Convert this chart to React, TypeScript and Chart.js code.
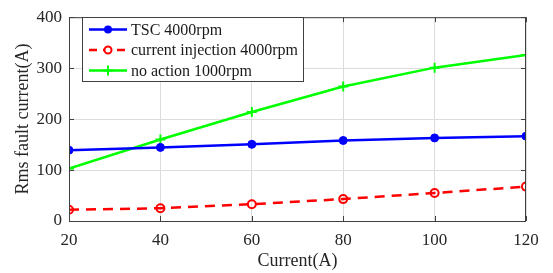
import React, { useEffect, useRef } from "react";
import { Chart, registerables } from "chart.js";
Chart.register(...registerables);

const xValues = [20, 40, 60, 80, 100, 120];
const tscValues = [139, 144.5, 150.5, 158, 163, 166.5];
const injectionValues = [22, 25, 33, 43, 55, 67.5];
const noActionValues = [103, 160, 214, 264, 301, 326];
const seriesLabels = ["TSC 4000rpm", "current injection 4000rpm", "no action 1000rpm"];
const xTitle = "Current(A)";
const yTitle = "Rms fault current(A)";

const FONT = "'Liberation Serif', 'Times New Roman', serif";

export default function App() {
  const ref = useRef<HTMLCanvasElement>(null);
  useEffect(() => {
    const ctx = ref.current!.getContext("2d")!;
    const mk = (vals: number[]) => vals.map((v, i) => ({ x: xValues[i], y: v }));
    const framePlugin = {
      id: "frame",
      afterDraw(chart: any) {
        const c = chart.ctx;
        const a = chart.chartArea;
        const xs = chart.scales.x;
        const ys = chart.scales.y;
        c.save();
        c.strokeStyle = "#404040";
        c.lineWidth = 1;
        c.strokeRect(a.left + 0.5, a.top + 0.5, a.right - a.left - 1, a.bottom - a.top);
        // inward ticks
        c.beginPath();
        for (const v of xValues) {
          const px = Math.round(xs.getPixelForValue(v)) + 0.5;
          c.moveTo(px, a.bottom); c.lineTo(px, a.bottom - 5);
          c.moveTo(px, a.top); c.lineTo(px, a.top + 5);
        }
        for (const v of [0, 100, 200, 300, 400]) {
          const py = Math.round(ys.getPixelForValue(v)) + 0.5;
          c.moveTo(a.left, py); c.lineTo(a.left + 5, py);
          c.moveTo(a.right, py); c.lineTo(a.right - 5, py);
        }
        c.stroke();
        // titles
        c.fillStyle = "#262626";
        c.font = `18px ${FONT}`;
        c.textAlign = "center";
        c.textBaseline = "alphabetic";
        c.fillText(xTitle, (a.left + a.right) / 2, 266);
        c.save();
        c.translate(28, (a.top + a.bottom) / 2);
        c.rotate(-Math.PI / 2);
        c.fillText(yTitle, 0, 0);
        c.restore();
        // legend
        const lx = 82, ly = 17, lw = 221, lh = 64;
        c.fillStyle = "#ffffff";
        c.fillRect(lx, ly, lw, lh);
        c.strokeStyle = "#404040";
        c.strokeRect(lx + 0.5, ly + 0.5, lw, lh);
        const items = [
          { color: "#0000ff", dash: [], marker: "dot" },
          { color: "#ff0000", dash: [8, 6], marker: "ring" },
          { color: "#00ff00", dash: [], marker: "cross" },
        ];
        items.forEach((it, i) => {
          const y = 29.5 + i * 20.5;
          c.strokeStyle = it.color;
          c.lineWidth = 2.5;
          c.setLineDash(it.dash);
          c.beginPath();
          c.moveTo(89, y); c.lineTo(127, y);
          c.stroke();
          c.setLineDash([]);
          c.fillStyle = it.color;
          if (it.marker === "dot") {
            c.beginPath(); c.arc(108, y, 4, 0, Math.PI * 2); c.fill();
          } else if (it.marker === "ring") {
            c.lineWidth = 2;
            c.beginPath(); c.arc(108, y, 3.5, 0, Math.PI * 2); c.fillStyle = "#fff"; c.fill(); c.stroke();
          } else {
            c.lineWidth = 2;
            c.beginPath(); c.moveTo(103, y); c.lineTo(113, y); c.moveTo(108, y - 5); c.lineTo(108, y + 5); c.stroke();
          }
          c.fillStyle = "#1a1a1a";
          c.font = `16px ${FONT}`;
          c.textAlign = "left";
          c.textBaseline = "middle";
          c.fillText(seriesLabels[i], 131, y + 1);
        });
        c.restore();
      },
    };
    const chart = new Chart(ctx, {
      type: "line",
      data: {
        datasets: [
          {
            label: seriesLabels[0],
            data: mk(tscValues),
            borderColor: "#0000ff",
            backgroundColor: "#0000ff",
            borderWidth: 2.5,
            pointStyle: "circle",
            pointRadius: 4,
            pointBorderWidth: 1,
          },
          {
            label: seriesLabels[1],
            data: mk(injectionValues),
            borderColor: "#ff0000",
            backgroundColor: "rgba(255,255,255,0)",
            borderWidth: 2.5,
            borderDash: [10, 7],
            pointStyle: "circle",
            pointRadius: 4,
            pointBorderWidth: 2,
          },
          {
            label: seriesLabels[2],
            data: mk(noActionValues),
            borderColor: "#00ff00",
            backgroundColor: "#00ff00",
            borderWidth: 2.5,
            pointStyle: "cross",
            pointRadius: 5,
            pointBorderWidth: 2,
          },
        ],
      },
      options: {
        animation: false,
        responsive: false,
        maintainAspectRatio: false,
        layout: { padding: { left: 0, top: 6, right: 27, bottom: 0 } },
        plugins: { legend: { display: false }, tooltip: { enabled: false } },
        scales: {
          x: {
            type: "linear",
            min: 20,
            max: 120,
            ticks: { stepSize: 20, color: "#262626", font: { family: FONT, size: 17 }, padding: 9 },
            grid: { color: "#dcdcdc", drawTicks: false },
            border: { display: false },
            afterFit: (s: any) => { s.height = 52; },
          },
          y: {
            min: 0,
            max: 400,
            ticks: { stepSize: 100, color: "#262626", font: { family: FONT, size: 17 }, padding: 7 },
            grid: { color: "#dcdcdc", drawTicks: false },
            border: { display: false },
            afterFit: (s: any) => { s.width = 69; },
          },
        },
      },
      plugins: [framePlugin],
    } as any);
    return () => chart.destroy();
  }, []);
  return (
    <div style={{ position: "fixed", left: 0, top: 0, width: 553, height: 273, background: "#fff" }}>
      <canvas ref={ref} width={553} height={273} />
    </div>
  );
}
